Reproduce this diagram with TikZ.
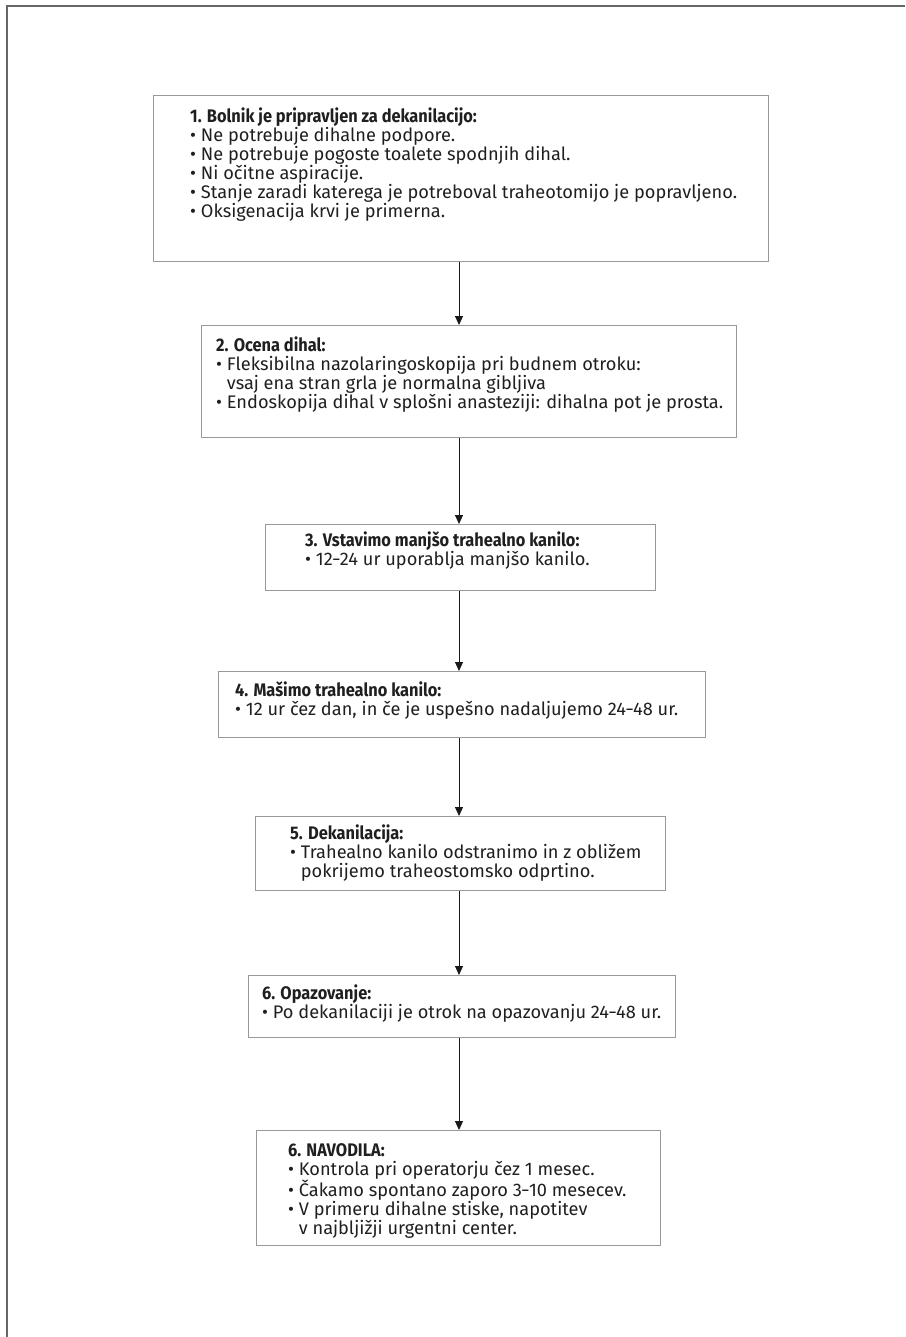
\documentclass[tikz,border=0pt]{standalone}
\usepackage{fontspec}
\usepackage{graphicx}
\setmainfont{Fira Sans}[Numbers={Proportional,Lining}]
\usetikzlibrary{arrows.meta}
\newcommand\bl{\textbullet\ }
\newcommand\cont{\phantom{\textbullet}\ }
\newcommand\ttl[1]{\scalebox{0.9}[1]{\textbf{#1}}}
\newcommand\nd{\scalebox{0.75}[1]{–}}
\begin{document}
\begin{tikzpicture}[x=1pt,y=-1pt,
 box/.style={draw=black!40, line width=1.2pt, anchor=north west, inner sep=0pt},
 txt/.style={anchor=north west, align=left, inner sep=0pt, font=\fontsize{18.2}{19}\selectfont, text=black!88},
 arr/.style={-{Triangle[length=9pt,width=8pt]}, line width=1pt, draw=black!90}]
\useasboundingbox (0,0) rectangle (905,1337);
\draw[black!60, line width=2pt] (7,1337) -- (7,6) -- (905,6);
\coordinate (ax) at (459,0);

\node[box, minimum width=615pt, minimum height=166pt] (b1) at (153,95) {};
\node[txt] (t1) at (190,108) {\ttl{1. Bolnik je pripravljen za dekanilacijo:}\\
\bl Ne potrebuje dihalne podpore.\\
\bl Ne potrebuje pogoste toalete spodnjih dihal.\\
\bl Ni očitne aspiracije.\\
\bl Stanje zaradi katerega je potreboval traheotomijo je popravljeno.\\
\bl Oksigenacija krvi je primerna.};

\node[box, minimum width=535pt, minimum height=112pt] (b2) at (201,325) {};
\node[txt] (t2) at (216,337) {\ttl{2. Ocena dihal:}\\
\bl Fleksibilna nazolaringoskopija pri budnem otroku:\\
\cont vsaj ena stran grla je normalna gibljiva\\
\bl Endoskopija dihal v splošni anasteziji: dihalna pot je prosta.};

\node[box, minimum width=390pt, minimum height=66pt] (b3) at (265,524) {};
\node[txt] (t3) at (305,531) {\ttl{3. Vstavimo manjšo trahealno kanilo:}\\
\bl 12\nd 24 ur uporablja manjšo kanilo.};

\node[box, minimum width=487pt, minimum height=66pt] (b4) at (218,671) {};
\node[txt] (t4) at (235,681) {\ttl{4. Mašimo trahealno kanilo:}\\
\bl 12 ur čez dan, in če je uspešno nadaljujemo 24\nd 48 ur.};

\node[box, minimum width=410pt, minimum height=74pt] (b5) at (255,816) {};
\node[txt] (t5) at (290,825) {\ttl{5. Dekanilacija:}\\
\bl Trahealno kanilo odstranimo in z obližem\\
\cont pokrijemo traheostomsko odprtino.};

\node[box, minimum width=427pt, minimum height=62pt] (b6) at (248,975) {};
\node[txt] (t6) at (262,985) {\ttl{6. Opazovanje:}\\
\bl Po dekanilaciji je otrok na opazovanju 24\nd 48 ur.};

\node[box, minimum width=404pt, minimum height=115pt] (b7) at (256,1130) {};
\node[txt] (t7) at (288,1143) {\ttl{6. NAVODILA:}\\
\bl Kontrola pri operatorju čez 1 mesec.\\
\bl Čakamo spontano zaporo 3\nd 10 mesecev.\\
\bl V primeru dihalne stiske, napotitev\\
\cont v najbljižji urgentni center.};

\draw[arr] (b1.south -| ax) -- (b2.north -| ax);
\draw[arr] (b2.south -| ax) -- (b3.north -| ax);
\draw[arr] (b3.south -| ax) -- (b4.north -| ax);
\draw[arr] (b4.south -| ax) -- (b5.north -| ax);
\draw[arr] (b5.south -| ax) -- (b6.north -| ax);
\draw[arr] (b6.south -| ax) -- (b7.north -| ax);
\end{tikzpicture}
\end{document}
